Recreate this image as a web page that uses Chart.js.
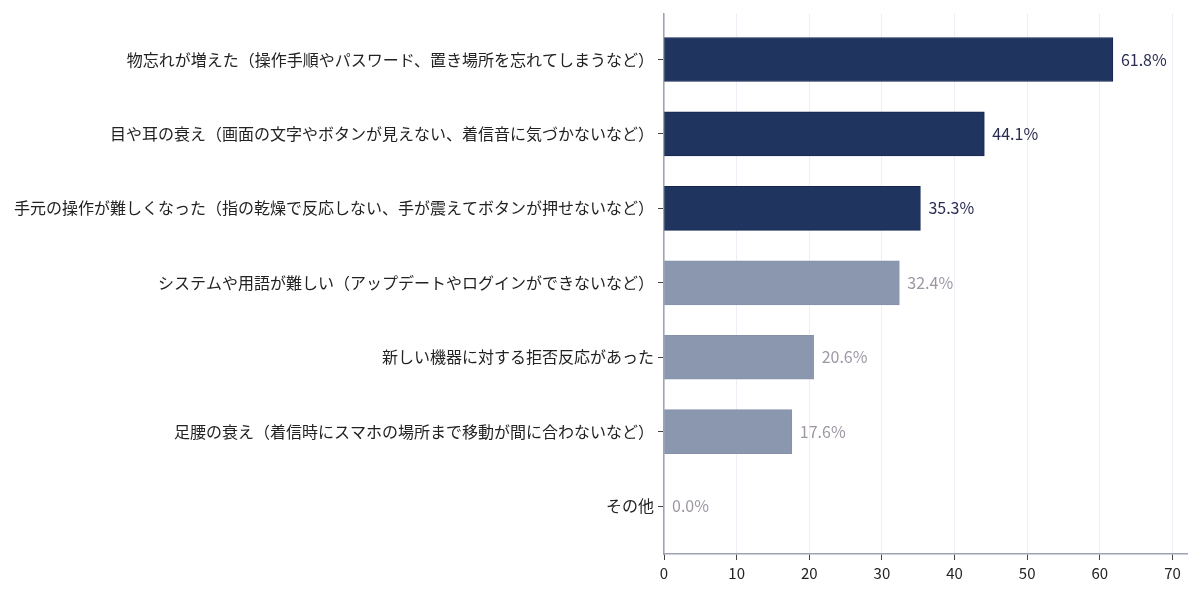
<!DOCTYPE html>
<html>
<head>
<meta charset="utf-8">
<script src="https://cdn.jsdelivr.net/npm/chart.js@4"></script>
<style>
  html, body { margin: 0; padding: 0; background: #fff; }
  #wrap { width: 1200px; height: 594px; }
</style>
</head>
<body>
<div id="wrap"><canvas id="chart"></canvas></div>
<script>
// data
var categories = [
    '物忘れが増えた（操作手順やパスワード、置き場所を忘れてしまうなど）',
    '目や耳の衰え（画面の文字やボタンが見えない、着信音に気づかないなど）',
    '手元の操作が難しくなった（指の乾燥で反応しない、手が震えてボタンが押せないなど）',
    'システムや用語が難しい（アップデートやログインができないなど）',
    '新しい機器に対する拒否反応があった',
    '足腰の衰え（着信時にスマホの場所まで移動が間に合わないなど）',
    'その他'
];
var values = [61.8, 44.1, 35.3, 32.4, 20.6, 17.6, 0.0];
var highlighted = [true, true, true, false, false, false, false];
var xTicks = [0, 10, 20, 30, 40, 50, 60, 70];

var DARK = '#1f3560';
var LIGHT = '#8a97ae';
var FONT = '"Noto Sans CJK JP", "Noto Sans", sans-serif';

var points = values.map(function (v, i) { return { x: v, y: i }; });

var valueLabels = {
    id: 'valueLabels',
    afterDatasetsDraw: function (chart) {
        var ctx = chart.ctx;
        var meta = chart.getDatasetMeta(0);
        ctx.save();
        ctx.font = '16px ' + FONT;
        ctx.textBaseline = 'middle';
        ctx.textAlign = 'left';
        meta.data.forEach(function (bar, i) {
            ctx.fillStyle = highlighted[i] ? '#2a2c52' : '#9d97a3';
            ctx.fillText(values[i].toFixed(1) + '%', bar.x + 8, bar.y);
        });
        ctx.restore();
    }
};

document.addEventListener('DOMContentLoaded', function () {
    var ctx = document.getElementById('chart').getContext('2d');
    new Chart(ctx, {
        type: 'bar',
        data: {
            datasets: [{
                data: points,
                backgroundColor: highlighted.map(function (h) { return h ? DARK : LIGHT; }),
                borderColor: highlighted.map(function (h) { return h ? '#142650' : '#8592aa'; }),
                borderWidth: 1,
                borderSkipped: false,
                barThickness: 44
            }]
        },
        options: {
            indexAxis: 'y',
            responsive: true,
            maintainAspectRatio: false,
            animation: false,
            layout: { padding: { top: 12, right: 13, left: 0, bottom: 0 } },
            plugins: {
                legend: { display: false },
                tooltip: { enabled: false }
            },
            scales: {
                y: {
                    type: 'linear',
                    reverse: true,
                    offset: false,
                    min: -0.616,
                    max: 6.643,
                    afterFit: function (scale) { scale.width = 664; },
                    afterBuildTicks: function (scale) {
                        scale.ticks = categories.map(function (c, i) { return { value: i }; });
                    },
                    ticks: {
                        autoSkip: false,
                        padding: 4,
                        color: '#222',
                        font: { family: FONT, size: 16 },
                        callback: function (v) { return categories[v]; }
                    },
                    grid: {
                        offset: false,
                        drawOnChartArea: false,
                        drawTicks: true,
                        tickLength: 6,
                        tickColor: '#444'
                    },
                    border: { color: '#9ea3b3', width: 1.5 }
                },
                x: {
                    type: 'linear',
                    min: 0,
                    max: 72,
                    afterFit: function (scale) { scale.height = 40; },
                    afterBuildTicks: function (scale) {
                        scale.ticks = xTicks.map(function (v) { return { value: v }; });
                    },
                    ticks: {
                        padding: 4,
                        color: '#222',
                        font: { family: FONT, size: 15 }
                    },
                    grid: {
                        color: '#efedf5',
                        tickColor: '#444',
                        tickLength: 6
                    },
                    border: { color: '#9ea3b3', width: 1.5 }
                }
            }
        },
        plugins: [valueLabels]
    });
});
</script>
</body>
</html>
